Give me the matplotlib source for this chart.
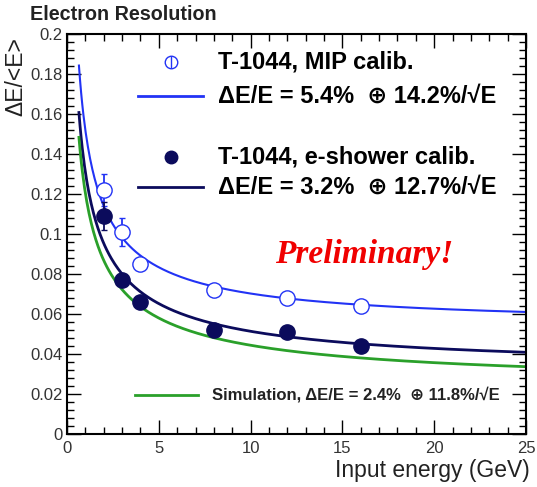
import numpy as np
import matplotlib
matplotlib.use("Agg")
import matplotlib.pyplot as plt
from matplotlib.ticker import MultipleLocator, FormatStrFormatter

plt.rcParams['font.family'] = ['Liberation Sans', 'DejaVu Sans']

# measured points
energy = [2, 3, 4, 8, 12, 16]
mip_res = [0.122, 0.101, 0.085, 0.072, 0.068, 0.064]
mip_err = [0.008, 0.007, 0.0, 0.0, 0.0, 0.0]
shower_res = [0.109, 0.077, 0.066, 0.052, 0.051, 0.044]
shower_err = [0.007, 0.0, 0.0, 0.0, 0.0, 0.0]

# fit parameters: constant term, stochastic term
mip_fit = (0.054, 0.142)
shower_fit = (0.032, 0.127)
sim_fit = (0.024, 0.118)

blue = '#2233f5'
navy = '#0b0b5c'
green = '#2aa02a'

def resolution(e, p):
    a, b = p
    return np.sqrt(a**2 + b**2 / e)

fig = plt.figure(figsize=(5.37, 4.87), dpi=100)
ax = fig.add_axes([67/537, 1-434/487, 459/537, 400/487])

e = np.linspace(0.65, 25, 400)
ax.plot(e, resolution(e, mip_fit), color=blue, lw=1.5)
ax.plot(e, resolution(e, shower_fit), color=navy, lw=2)
ax.plot(e, resolution(e, sim_fit), color=green, lw=2)

# error bars only where they stick out of the marker
for xs, ys, es, col in [(energy, mip_res, mip_err, blue),
                        (energy, shower_res, shower_err, navy)]:
    sel = [i for i in range(len(xs)) if es[i] > 0]
    ax.errorbar([xs[i] for i in sel], [ys[i] for i in sel],
                yerr=[es[i] for i in sel], fmt='none', ecolor=col,
                capsize=2, elinewidth=1.3)

ax.plot(energy, mip_res, 'o', mfc='white', mec=blue, ms=11, mew=1.0)
ax.plot(energy, shower_res, 'o', color=navy, ms=11)

ax.set_xlim(0, 25)
ax.set_ylim(0, 0.2)
ax.xaxis.set_major_locator(MultipleLocator(5))
ax.xaxis.set_minor_locator(MultipleLocator(1))
ax.yaxis.set_major_locator(MultipleLocator(0.02))
ax.yaxis.set_minor_locator(MultipleLocator(0.004))
ax.yaxis.set_major_formatter(FormatStrFormatter('%g'))
ax.tick_params(which='both', direction='in', top=True, right=True,
               labelsize=12, labelcolor='#333333')
ax.tick_params(which='major', length=10, width=1)
ax.tick_params(which='minor', length=5, width=1)
ax.tick_params(axis='x', pad=5)
ax.tick_params(axis='y', pad=3)
for s in ax.spines.values():
    s.set_linewidth(1.5)

ax.set_xlabel('Input energy (GeV)', fontsize=16.5, color='#222222')
ax.xaxis.set_label_coords(1.009, -0.063)
ax.xaxis.label.set_horizontalalignment('right')
ax.set_ylabel('ΔE/<E>', fontsize=16.5, color='#222222')
ax.yaxis.set_label_coords(-0.087, 0.9925)
ax.yaxis.label.set_horizontalalignment('right')

fig.text(30/537, 1-14/487, 'Electron Resolution', fontsize=14.2,
         fontweight='bold', va='center', ha='left', color='#222222')

# legend entries
tr = ax.transAxes
ax.errorbar([0.2266], [0.93], yerr=[0.014], fmt='o', mfc='none', mec=blue,
            ecolor=blue, ms=9, mew=1.0, elinewidth=1.0, transform=tr,
            clip_on=False)
ax.text(0.329, 0.93, 'T-1044, MIP calib.', transform=tr, fontsize=17,
        fontweight='bold', va='center')
ax.plot([0.155, 0.296], [0.845, 0.845], color=blue, lw=2, transform=tr)
ax.text(0.329, 0.845, 'ΔE/E = 5.4%  ⊕ 14.2%/√E', transform=tr, fontsize=17,
        fontweight='bold', va='center')

ax.errorbar([0.2266], [0.6925], yerr=[0.008], fmt='o', color=navy, ms=9,
            transform=tr, clip_on=False)
ax.text(0.329, 0.6925, 'T-1044, e-shower calib.', transform=tr, fontsize=17,
        fontweight='bold', va='center')
ax.plot([0.155, 0.296], [0.6175, 0.6175], color=navy, lw=2, transform=tr)
ax.text(0.329, 0.6175, 'ΔE/E = 3.2%  ⊕ 12.7%/√E', transform=tr, fontsize=17,
        fontweight='bold', va='center')

ax.text(0.647, 0.45, 'Preliminary!', transform=tr, fontsize=24,
        fontweight='bold', fontstyle='italic', family='Liberation Serif',
        color='#f00000', ha='center', va='center')

ax.plot([0.148, 0.285], [0.0975, 0.0975], color=green, lw=2, transform=tr)
ax.text(0.316, 0.0975, 'Simulation, ΔE/E = 2.4%  ⊕ 11.8%/√E', transform=tr,
        fontsize=12, fontweight='bold', va='center', color='#222222')

fig.savefig('out.png', dpi=100)
